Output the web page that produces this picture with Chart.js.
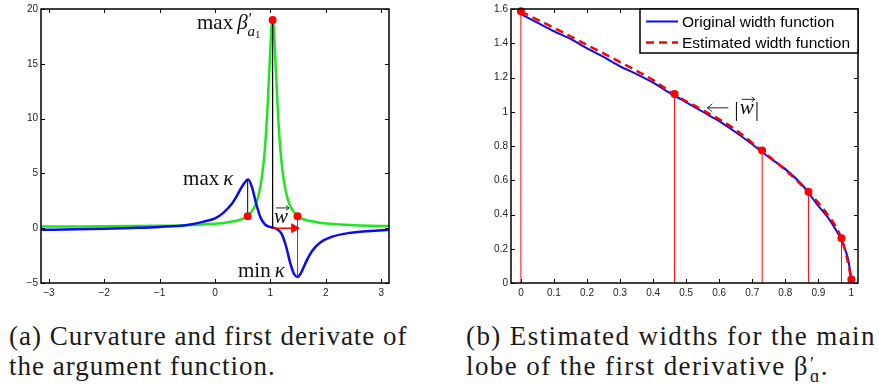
<!DOCTYPE html>
<html lang="en">
<head>
<meta charset="UTF-8">
<title>Curvature and width estimation</title>
<script src="https://cdn.jsdelivr.net/npm/chart.js"></script>
<style>
  body { margin: 0; background: #fff; width: 879px; height: 389px; position: relative; overflow: hidden; }
  canvas { position: absolute; top: 0; }
  #chartA { left: 0; }
  #chartB { left: 460px; }
  .caption { position: absolute; top: 321px; font-family: "Liberation Serif", serif; font-size: 27px;
             letter-spacing: 1px; line-height: 30px; color: #1a1a1a; white-space: nowrap; }
  #capA { left: 9px; }
  #capB { left: 466px; letter-spacing: 1.4px; }
  .ss { display: inline-block; vertical-align: -7px; line-height: 12px; font-size: 18px; margin-left: 1px; }
  .ss span { display: block; }
</style>
</head>
<body>
<canvas id="chartA" width="400" height="300"></canvas>
<canvas id="chartB" width="410" height="300"></canvas>
<div class="caption" id="capA">(a) Curvature and first derivate of<br>the argument function.</div>
<div class="caption" id="capB">(b) Estimated widths for the main<br>lobe of the first derivative β<span class="ss"><span>′</span><span>ɑ</span></span>.</div>
<script>
// ---- panel (a): curvature kappa and derivative beta' over the angle ----
const thetaTicks = [-3, -2, -1, 0, 1, 2, 3];
const valueTicksA = [-5, 0, 5, 10, 15, 20];

const thetaKappa = [-3.14, -2.5, -2.0, -1.5, -1.0, -0.5, -0.2, 0.0, 0.15, 0.3, 0.4, 0.5, 0.6, 0.67, 0.74, 0.82,
                    0.9, 0.97, 1.05, 1.12, 1.2, 1.28, 1.36, 1.43, 1.49, 1.56, 1.65, 1.75, 1.9, 2.1, 2.4, 2.8, 3.14];
const kappa = [-0.15, -0.1, -0.05, 0.02, 0.12, 0.3, 0.6, 0.9, 1.4, 2.2, 3.0, 3.9, 4.45, 3.7, 2.3, 1.0,
               0.35, 0.15, 0.05, -0.1, -0.5, -1.6, -3.2, -4.2, -4.45, -4.0, -3.0, -2.1, -1.3, -0.8, -0.45, -0.25, -0.15];

const thetaBeta = [-3.14, -2.5, -2.0, -1.5, -1.0, -0.5, 0.0, 0.24, 0.44, 0.59, 0.72, 0.8, 0.86, 0.9, 0.94, 0.97, 1.0, 1.02,
                   1.04, 1.06, 1.08, 1.11, 1.14, 1.18, 1.22, 1.28, 1.36, 1.49, 1.64, 1.84, 2.08, 2.5, 3.0, 3.14];
const betaPrime = [0.15, 0.16, 0.17, 0.19, 0.22, 0.28, 0.4, 0.55, 0.75, 1.1, 2.0, 3.3, 5.2, 7.2, 10.2, 13.3, 16.5, 18.4,
                   19.0, 18.4, 16.5, 13.3, 10.2, 7.2, 5.2, 3.3, 2.0, 1.1, 0.75, 0.55, 0.4, 0.28, 0.21, 0.2];

// max kappa, max beta', min kappa
const markTheta = [0.59, 1.04, 1.49];
const markBeta = [1.1, 19.0, 1.1];
const stemEnd = [4.45, 0, -4.45];
const stemColor = ['#000000', '#000000', '#5a5a5a'];

// ---- panel (b): width function of the main lobe ----
const posTicks = [0, 0.1, 0.2, 0.3, 0.4, 0.5, 0.6, 0.7, 0.8, 0.9, 1];
const widthTicks = [0, 0.2, 0.4, 0.6, 0.8, 1, 1.2, 1.4, 1.6];

const posOrig = [0, 0.05, 0.1, 0.15, 0.2, 0.25, 0.3, 0.35, 0.4, 0.45, 0.5, 0.55, 0.6, 0.65, 0.7, 0.75,
                 0.8, 0.85, 0.9, 0.93, 0.95, 0.97, 0.98, 0.99, 1.0];
const widthOrig = [1.57, 1.52, 1.47, 1.425, 1.37, 1.32, 1.265, 1.22, 1.17, 1.11, 1.055, 1.0, 0.945, 0.88, 0.81, 0.735,
                   0.665, 0.575, 0.45, 0.38, 0.32, 0.25, 0.2, 0.14, 0.02];

const posEst = [0, 0.1, 0.2, 0.3, 0.4, 0.465, 0.55, 0.65, 0.73, 0.8, 0.87, 0.92, 0.97, 0.985, 1.0];
const widthEst = [1.585, 1.49, 1.39, 1.29, 1.185, 1.1, 1.01, 0.895, 0.77, 0.66, 0.53, 0.42, 0.26, 0.16, 0.02];

const samplePos = [0, 0.465, 0.73, 0.87, 0.97, 1.0];
const sampleWidth = [1.587, 1.103, 0.773, 0.533, 0.262, 0.02];

const serif = "'Liberation Serif', serif";
const sans = "'Liberation Sans', Arial, sans-serif";
const fmtTick = v => (v < 0 ? '\u2212' + Math.abs(v) : String(v));
const pts = (xs, ys) => xs.map((x, i) => ({ x: x, y: ys[i] }));

// box round the plot area with inward ticks on all four sides
const frameTicks = {
  id: 'frameTicks',
  afterDatasetsDraw(chart) {
    const { ctx, chartArea: a, scales: { x, y } } = chart;
    ctx.save();
    ctx.strokeStyle = '#000';
    ctx.lineWidth = 1;
    ctx.beginPath();
    x.ticks.forEach(t => {
      const px = Math.round(x.getPixelForValue(t.value)) + 0.5;
      ctx.moveTo(px, a.bottom); ctx.lineTo(px, a.bottom - 4);
      ctx.moveTo(px, a.top); ctx.lineTo(px, a.top + 4);
    });
    y.ticks.forEach(t => {
      const py = Math.round(y.getPixelForValue(t.value)) + 0.5;
      ctx.moveTo(a.left, py); ctx.lineTo(a.left + 4, py);
      ctx.moveTo(a.right, py); ctx.lineTo(a.right - 4, py);
    });
    ctx.stroke();
    ctx.lineWidth = 1.5;
    ctx.strokeRect(a.left, a.top, a.right - a.left, a.bottom - a.top);
    ctx.restore();
  }
};

// small arrow over a vector symbol
function vecArrow(ctx, x0, x1, y) {
  ctx.beginPath();
  ctx.moveTo(x0, y); ctx.lineTo(x1, y);
  ctx.moveTo(x1 - 3, y - 2.5); ctx.lineTo(x1, y); ctx.lineTo(x1 - 3, y + 2.5);
  ctx.stroke();
}

function axisOptions(min, max, ticks, size, isX) {
  return {
    type: 'linear', min: min, max: max,
    grid: { display: false, drawTicks: false },
    border: { display: false },
    ticks: { font: { family: sans, size: 10 }, color: '#222', padding: isX ? 4 : 3, callback: fmtTick },
    afterBuildTicks: s => { s.ticks = ticks.map(v => ({ value: v })); },
    afterFit: s => { if (isX) s.height = size; else s.width = size; }
  };
}

// math labels of panel (a)
const labelsA = {
  id: 'labelsA',
  afterDraw(chart) {
    const { ctx, scales: { x, y } } = chart;
    ctx.save();
    ctx.fillStyle = '#111';
    ctx.strokeStyle = '#111';
    ctx.lineWidth = 0.9;
    ctx.textBaseline = 'alphabetic';

    // max beta'_{a1}
    let px = x.getPixelForValue(-0.325), py = y.getPixelForValue(18.2);
    ctx.font = '21px ' + serif;
    ctx.fillText('max', px, py);
    px += ctx.measureText('max').width + 4;
    ctx.font = 'italic 21px ' + serif;
    ctx.fillText('β', px, py);
    px += ctx.measureText('β').width;
    ctx.font = '17px ' + serif;
    ctx.fillText('′', px + 1, py - 5);
    ctx.font = 'italic 15px ' + serif;
    ctx.fillText('a', px, py + 7);
    const aw = ctx.measureText('a').width;
    ctx.font = '11px ' + serif;
    ctx.fillText('1', px + aw, py + 9);

    // max kappa / min kappa
    [['max', -0.577, 3.94], ['min', 0.415, -4.43]].forEach(([word, vx, vy]) => {
      let lx = x.getPixelForValue(vx);
      const ly = y.getPixelForValue(vy);
      ctx.font = '21px ' + serif;
      ctx.fillText(word, lx, ly);
      lx += ctx.measureText(word).width + 4;
      ctx.font = 'italic 21px ' + serif;
      ctx.fillText('κ', lx, ly);
    });

    // w vector
    const wx = x.getPixelForValue(1.065), wy = y.getPixelForValue(0.48);
    ctx.font = 'italic 21px ' + serif;
    ctx.fillText('w', wx, wy);
    const ww = ctx.measureText('w').width;
    vecArrow(ctx, wx + 2, wx + ww + 1, wy - 15);
    ctx.restore();
  }
};

// legend box and |w| note of panel (b)
const labelsB = {
  id: 'labelsB',
  afterDraw(chart) {
    const { ctx, chartArea: a, scales: { x, y } } = chart;
    ctx.save();
    // legend, top right corner of the plot area
    const bw = 218, bh = 44;
    const bx = a.right - bw, by = a.top;
    ctx.fillStyle = '#fff';
    ctx.fillRect(bx, by, bw, bh);
    ctx.strokeStyle = '#000';
    ctx.lineWidth = 1.5;
    ctx.strokeRect(bx, by, bw, bh);
    ctx.font = '15.5px ' + sans;
    ctx.textBaseline = 'middle';
    chart.data.datasets.filter(d => d.inLegend).forEach((d, i) => {
      const ry = by + 12.5 + i * 21;
      ctx.strokeStyle = d.borderColor;
      ctx.lineWidth = d.borderWidth;
      ctx.setLineDash(d.borderDash || []);
      ctx.beginPath();
      ctx.moveTo(bx + 6, ry); ctx.lineTo(bx + 38, ry);
      ctx.stroke();
      ctx.setLineDash([]);
      ctx.fillStyle = '#000';
      ctx.fillText(d.label, bx + 42, ry + 1);
    });

    // arrow pointing at the curves, then |w|
    ctx.textBaseline = 'alphabetic';
    ctx.fillStyle = '#111';
    ctx.strokeStyle = '#111';
    ctx.lineWidth = 0.9;
    let px = x.getPixelForValue(0.564);
    const py = y.getPixelForValue(0.985);
    const ay = py - 6.5;
    ctx.beginPath();
    ctx.moveTo(px + 21, ay); ctx.lineTo(px, ay);
    ctx.moveTo(px + 5, ay - 4); ctx.quadraticCurveTo(px + 2, ay - 1, px, ay);
    ctx.quadraticCurveTo(px + 2, ay + 1, px + 5, ay + 4);
    ctx.stroke();
    px += 27;
    ctx.font = '22px ' + serif;
    ctx.fillText('|', px, py + 2);
    px += ctx.measureText('|').width + 1;
    ctx.font = 'italic 21px ' + serif;
    ctx.fillText('w', px, py);
    const ww = ctx.measureText('w').width;
    vecArrow(ctx, px + 2, px + ww + 1, py - 15);
    ctx.font = '22px ' + serif;
    ctx.fillText('|', px + ww + 1, py + 2);
    ctx.restore();
  }
};

const baseOptions = {
  responsive: false,
  animation: false,
  events: [],
  plugins: { legend: { display: false }, tooltip: { enabled: false } }
};

// stems joining each marker to the other curve
const stems = markTheta.map((t, i) => ({
  data: [{ x: t, y: markBeta[i] }, { x: t, y: stemEnd[i] }],
  showLine: true, borderColor: stemColor[i], borderWidth: 1, pointRadius: 0, order: 3
}));

new Chart(document.getElementById('chartA'), {
  type: 'scatter',
  data: {
    datasets: [
      { data: pts(markTheta, markBeta), pointRadius: 4, pointBackgroundColor: '#ff0000',
        pointBorderWidth: 0, order: 0, clip: false },
      { data: [{ x: markTheta[1], y: 0 }, { x: markTheta[2] - 0.06, y: 0 }], showLine: true,
        borderColor: '#ff0000', borderWidth: 1.5, pointStyle: 'triangle', rotation: 90,
        pointRadius: [0, 5], pointBackgroundColor: '#ff0000', pointBorderColor: '#ff0000',
        pointBorderWidth: 1, order: 1 },
      ...stems,
      { label: 'kappa', data: pts(thetaKappa, kappa), showLine: true, borderColor: '#0a0af0',
        borderWidth: 2.5, pointRadius: 0, cubicInterpolationMode: 'monotone', order: 4 },
      { label: "beta'", data: pts(thetaBeta, betaPrime), showLine: true, borderColor: '#1ee61e',
        borderWidth: 2.5, pointRadius: 0, cubicInterpolationMode: 'monotone', order: 5 }
    ]
  },
  options: Object.assign({}, baseOptions, {
    layout: { padding: { top: 9, right: 11, left: 0, bottom: 0 } },
    scales: {
      x: axisOptions(-Math.PI, Math.PI, thetaTicks, 17, true),
      y: axisOptions(-5, 20, valueTicksA, 41, false)
    }
  }),
  plugins: [frameTicks, labelsA]
});

const sampleStems = samplePos.map((p, i) => ({
  data: [{ x: p, y: 0 }, { x: p, y: sampleWidth[i] }],
  showLine: true, borderColor: '#ff0000', borderWidth: 1, pointRadius: 0, order: 4, clip: false
}));

new Chart(document.getElementById('chartB'), {
  type: 'scatter',
  data: {
    datasets: [
      { data: pts(samplePos, sampleWidth), pointRadius: 4, pointBackgroundColor: '#ff0000',
        pointBorderWidth: 0, order: 0, clip: false },
      { label: 'Original width function', inLegend: true, data: pts(posOrig, widthOrig), showLine: true,
        borderColor: '#0a0af0', borderWidth: 2, pointRadius: 0, cubicInterpolationMode: 'monotone', order: 2 },
      { label: 'Estimated width function', inLegend: true, data: pts(posEst, widthEst), showLine: true,
        borderColor: '#ff0000', borderWidth: 2.5, borderDash: [8, 5], pointRadius: 0,
        cubicInterpolationMode: 'monotone', order: 1 },
      ...sampleStems
    ]
  },
  options: Object.assign({}, baseOptions, {
    layout: { padding: { top: 9, right: 12, left: 0, bottom: 0 } },
    scales: {
      x: axisOptions(-0.03, 1.02, posTicks, 17, true),
      y: axisOptions(0, 1.6, widthTicks, 51, false)
    }
  }),
  plugins: [frameTicks, labelsB]
});
</script>
</body>
</html>
